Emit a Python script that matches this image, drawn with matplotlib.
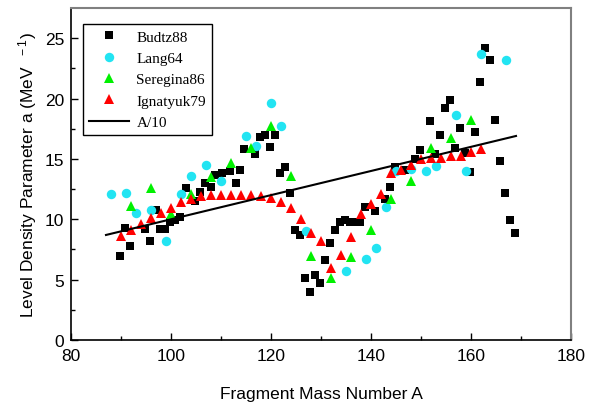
import matplotlib.pyplot as plt
import numpy as np

# Budtz88
budtz_A = [89.8, 90.8, 91.8, 94.8, 95.8, 97.0, 97.8, 98.8, 99.8, 100.8, 101.8, 102.9,
           104.8, 105.8, 106.8, 107.9, 108.8, 110.1, 111.7, 112.9, 113.8, 114.5, 116.8,
           117.8, 118.8, 119.8, 120.8, 121.8, 122.8, 123.8, 124.8, 125.8, 126.8, 127.8,
           128.8, 129.8, 130.8, 131.8, 132.8, 133.8, 134.8, 135.8, 136.8, 137.8, 138.8,
           140.8, 142.8, 143.8, 144.8, 146.8, 148.8, 149.8, 151.8, 152.8, 153.8, 154.8,
           155.8, 156.8, 157.8, 158.8, 159.8, 160.8, 161.8, 162.8, 163.8, 164.8, 165.8,
           166.8, 167.7, 168.7]
budtz_a = [6.95, 9.3, 7.8, 9.2, 8.2, 10.8, 9.2, 9.2, 9.8, 9.9, 10.2, 12.6,
           11.5, 12.3, 13.0, 12.7, 13.7, 13.8, 14.0, 13.0, 14.1, 15.8, 15.4,
           16.8, 17.0, 16.0, 17.0, 13.8, 14.3, 12.2, 9.1, 8.7, 5.1, 4.0,
           5.4, 4.7, 6.6, 8.0, 9.1, 9.8, 9.9, 9.8, 9.8, 9.8, 11.0,
           10.7, 11.65, 12.7, 14.3, 14.1, 15.0, 15.7, 18.1, 15.4, 17.0, 19.2,
           19.9, 15.9, 17.6, 15.5, 13.9, 17.2, 21.4, 24.2, 23.2, 18.2, 14.8,
           12.2, 9.9, 8.9]

# Lang64
lang_A = [88, 91, 93, 96, 99, 102, 104, 107, 110, 115, 117, 120, 122, 127, 135,
          139, 141, 143, 145, 148, 151, 153, 157, 159, 162, 167]
lang_a = [12.1, 12.2, 10.5, 10.8, 8.2, 12.1, 13.6, 14.5, 13.2, 16.9, 16.1, 19.6,
          17.7, 9.0, 5.75, 6.7, 7.6, 11.0, 14.0, 14.2, 14.0, 14.4, 18.6, 14.0,
          23.7, 23.2]

# Seregina86
ser_A = [92, 96, 100, 104, 108, 112, 116, 120, 124, 128, 132, 136, 140, 144,
         148, 152, 156, 160]
ser_a = [11.1, 12.6, 10.4, 12.1, 13.5, 14.7, 15.9, 17.7, 13.6, 6.95, 5.1, 6.9,
         9.1, 11.65, 13.2, 15.9, 16.7, 18.2]

# Ignatyuk79
ign_A = list(range(90, 163, 2))
ign_a = [8.6, 9.1, 9.6, 10.1, 10.5, 10.9, 11.4, 11.7, 11.9, 12.0, 12.0, 12.0,
         12.0, 12.0, 11.9, 11.8, 11.4, 10.9, 10.0, 8.9, 8.2, 6.0, 7.0, 8.5,
         10.4, 11.3, 12.1, 13.8, 14.1, 14.5, 15.0, 15.1, 15.1, 15.2, 15.25,
         15.6, 15.8]

# A/10 line
line_A = np.array([87, 169])

plt.rcParams['font.family'] = 'Liberation Sans'
plt.rcParams['mathtext.default'] = 'regular'

fig = plt.figure(figsize=(5.9, 4.06), dpi=100)
ax = fig.add_axes([71 / 590, 65 / 406, 500 / 590, 332 / 406])

ax.plot(budtz_A, budtz_a, 's', color='black', ms=6, mew=0, label='Budtz88')
ax.plot(lang_A, lang_a, 'o', color='#22E4F2', ms=6.8, mew=0, label='Lang64')
ax.plot(ser_A, ser_a, '^', color='#00F000', ms=7.2, mew=0, label='Seregina86')
ax.plot(ign_A, ign_a, '^', color='#FF0000', ms=7.2, mew=0, label='Ignatyuk79')
ax.plot(line_A, line_A / 10, '-', color='black', lw=1.5, label='A/10')

ax.set_xlim(80, 180)
ax.set_ylim(0, 27.5)
ax.set_xticks(range(80, 181, 20))
ax.set_xticks(range(90, 180, 20), minor=True)
ax.set_yticks(range(0, 26, 5))
ax.set_yticks(np.arange(2.5, 27, 5), minor=True)
ax.tick_params(which='both', direction='in', top=False, right=False,
               labelsize=12.5, width=1)
ax.tick_params(which='major', length=5)
ax.tick_params(which='minor', length=3)
ax.tick_params(axis='x', pad=6)
ax.tick_params(axis='y', pad=5)
for s in ['top', 'right']:
    ax.spines[s].set_color('#808080')
    ax.spines[s].set_linewidth(1.5)
for s in ['left', 'bottom']:
    ax.spines[s].set_linewidth(1.2)

ax.set_xlabel('Fragment Mass Number A', fontsize=12.5, labelpad=16)
ax.set_ylabel('Level Density Parameter a (MeV $^{\\ -1}$)', fontsize=12.5, labelpad=4)

leg = ax.legend(loc='upper left', bbox_to_anchor=(0.024, 0.952), borderaxespad=0,
                prop={'family': 'Liberation Serif', 'size': 11}, frameon=True,
                fancybox=False, edgecolor='black', framealpha=1,
                handlelength=2.6, handletextpad=0.5, borderpad=0.4,
                labelspacing=0.5, numpoints=1)
leg.get_frame().set_linewidth(1)

fig.savefig('out.png', dpi=100)
